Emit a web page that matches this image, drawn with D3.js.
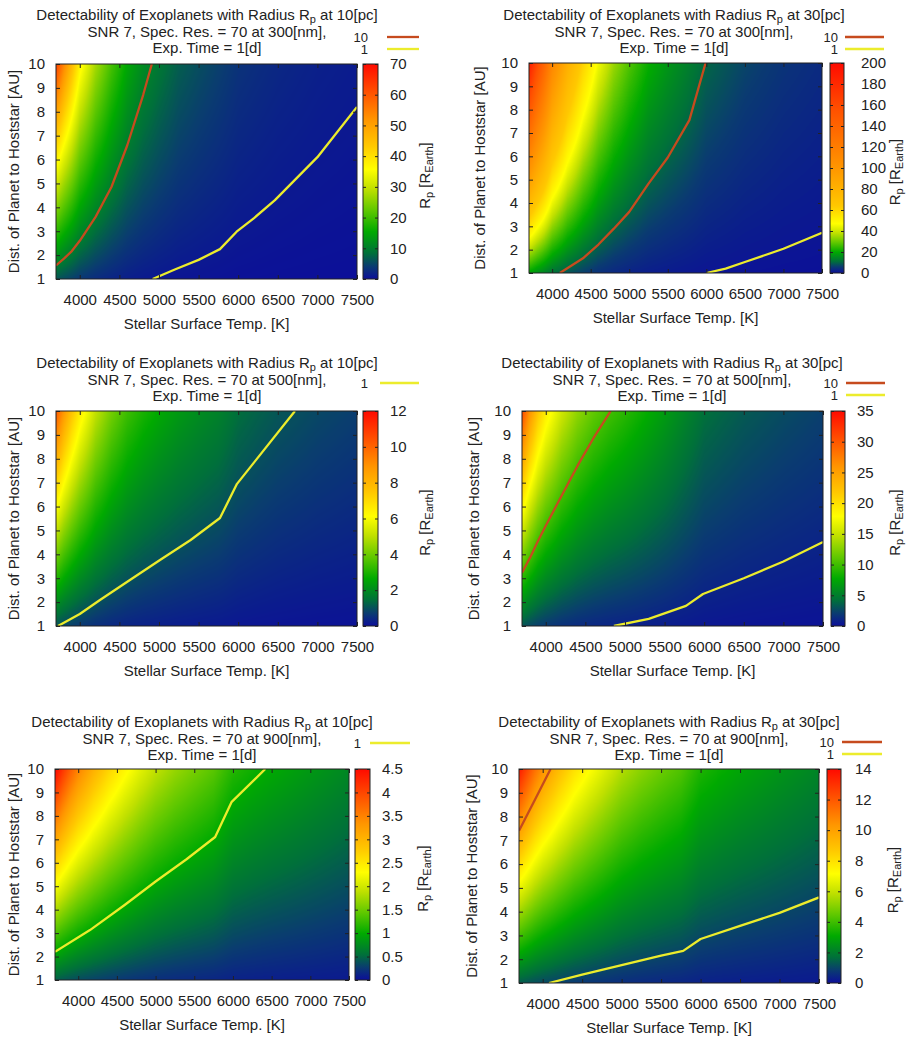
<!DOCTYPE html>
<html>
<head>
<meta charset="utf-8">
<script src="https://cdn.jsdelivr.net/npm/d3@7"></script>
<style>
  body { margin: 0; background: #fff; }
  svg { display: block; font-family: "Liberation Sans", Arial, Helvetica, sans-serif; }
</style>
</head>
<body>
<svg id="fig" width="908" height="1038"></svg>
<script>
// ---- grid of the minimum detectable radius Rp [R_Earth] ----
// columns: stellar surface temperature [K]; rows: planet distance [AU]
const temps = [3700, 3800, 3900, 4000, 4200, 4400, 4600, 4800, 5000, 5250, 5500, 5750, 6000, 6250, 6500, 7000, 7500];
const distRows = [1, 10];

const rp_10pc_300nm = [
  [6.3, 5.4, 4.6, 3.75, 2.75, 2.05, 1.5, 1.15, 0.92, 0.69, 0.56, 0.45, 0.335, 0.28, 0.228, 0.164, 0.122],
  [63, 54, 46, 37.5, 27.5, 20.5, 15, 11.5, 9.2, 6.9, 5.6, 4.5, 3.35, 2.8, 2.3, 1.65, 1.22]
];
const rp_30pc_300nm = [
  [18.9, 16.2, 13.8, 11.2, 8.25, 6.15, 4.5, 3.45, 2.75, 2.07, 1.68, 1.35, 1.0, 0.84, 0.68, 0.49, 0.37],
  [189, 162, 138, 112, 82, 61, 45, 34.5, 27.5, 20.7, 16.8, 13.5, 10, 8.4, 6.8, 4.9, 3.7]
];
const rp_10pc_500nm = [
  [1.03, 0.88, 0.76, 0.66, 0.51, 0.41, 0.34, 0.295, 0.262, 0.228, 0.202, 0.18, 0.143, 0.124, 0.108, 0.088, 0.074],
  [10.3, 8.8, 7.6, 6.6, 5.1, 4.1, 3.4, 2.95, 2.62, 2.28, 2.02, 1.8, 1.43, 1.24, 1.08, 0.88, 0.74]
];
const rp_30pc_500nm = [
  [3.1, 2.6, 2.2, 1.92, 1.55, 1.3, 1.13, 1.01, 0.92, 0.8, 0.68, 0.55, 0.425, 0.375, 0.33, 0.27, 0.222],
  [31, 26, 22, 19.2, 15.5, 13, 11.3, 10.1, 9.2, 8.0, 6.8, 5.5, 4.25, 3.75, 3.3, 2.7, 2.22]
];
const rp_10pc_900nm = [
  [0.455, 0.415, 0.38, 0.35, 0.305, 0.268, 0.238, 0.212, 0.19, 0.17, 0.155, 0.141, 0.116, 0.106, 0.098, 0.085, 0.072],
  [4.55, 4.15, 3.8, 3.5, 3.05, 2.68, 2.38, 2.12, 1.9, 1.7, 1.55, 1.41, 1.16, 1.06, 0.98, 0.85, 0.72]
];
const rp_30pc_900nm = [
  [1.36, 1.25, 1.14, 1.05, 0.915, 0.8, 0.715, 0.64, 0.57, 0.51, 0.465, 0.425, 0.35, 0.32, 0.295, 0.255, 0.217],
  [13.6, 12.5, 11.4, 10.5, 9.15, 8.0, 7.15, 6.4, 5.7, 5.1, 4.65, 4.25, 3.5, 3.2, 2.95, 2.55, 2.17]
];

// ---- contour lines of Rp = 10 and Rp = 1 : [temperature K, distance AU] ----
const c_10pc_300nm_10 = [[3700, 1.57], [3800, 1.85], [3900, 2.17], [4000, 2.6], [4200, 3.6], [4400, 4.85], [4600, 6.6], [4800, 8.7], [4910, 10]];
const c_10pc_300nm_1  = [[4920, 1], [5200, 1.4], [5500, 1.8], [5770, 2.25], [5980, 2.98], [6200, 3.55], [6464, 4.3], [7000, 6.1], [7500, 8.2]];
const c_30pc_300nm_10 = [[4100, 1], [4400, 1.63], [4600, 2.22], [4800, 2.9], [5000, 3.62], [5250, 4.83], [5500, 5.95], [5780, 7.55], [5990, 10]];
const c_30pc_300nm_1  = [[6000, 1], [6250, 1.19], [6500, 1.47], [7000, 2.04], [7500, 2.72]];
const c_10pc_500nm_1  = [[3725, 1], [4000, 1.5], [4255, 2.09], [4600, 2.85], [5013, 3.76], [5400, 4.6], [5770, 5.52], [5985, 6.95], [6717, 10]];
const c_30pc_500nm_10 = [[3700, 3.23], [3800, 3.85], [3900, 4.55], [4000, 5.2], [4200, 6.45], [4400, 7.7], [4600, 8.85], [4820, 10]];
const c_30pc_500nm_1  = [[4860, 1], [5300, 1.3], [5770, 1.84], [5985, 2.34], [6500, 3.0], [7000, 3.7], [7500, 4.52]];
const c_10pc_900nm_1  = [[3700, 2.2], [4152, 3.13], [4600, 4.2], [5000, 5.2], [5400, 6.15], [5770, 7.1], [5984, 8.6], [6418, 10]];
const c_30pc_900nm_10 = [[3700, 7.4], [3900, 8.7], [4100, 10]];
const c_30pc_900nm_1  = [[4080, 1], [4500, 1.35], [5000, 1.75], [5500, 2.15], [5780, 2.35], [6000, 2.85], [6500, 3.4], [7000, 3.95], [7500, 4.6]];

// ---- tick values ----
const xTicks = [4000, 4500, 5000, 5500, 6000, 6500, 7000, 7500];
const yTicks = [1, 2, 3, 4, 5, 6, 7, 8, 9, 10];
const cbTicks_10pc_300nm = [0, 10, 20, 30, 40, 50, 60, 70];
const cbTicks_30pc_300nm = [0, 20, 40, 60, 80, 100, 120, 140, 160, 180, 200];
const cbTicks_10pc_500nm = [0, 2, 4, 6, 8, 10, 12];
const cbTicks_30pc_500nm = [0, 5, 10, 15, 20, 25, 30, 35];
const cbTicks_10pc_900nm = [0, 0.5, 1, 1.5, 2, 2.5, 3, 3.5, 4, 4.5];
const cbTicks_30pc_900nm = [0, 2, 4, 6, 8, 10, 12, 14];

// ---- colour palette (blue -> green -> yellow -> orange -> red) ----
const paletteColors = ["#0c0e9a", "#0a3c70", "#00703a", "#00aa00", "#60c800", "#c0e000", "#ffff00", "#ffc800", "#ff9600", "#ff5000", "#ff0a00"];
const stopsStd  = [0, 0.06, 0.12, 0.22, 0.32, 0.42, 0.51, 0.62, 0.74, 0.87, 1];
const stopsWide = [0, 0.03, 0.055, 0.10, 0.145, 0.19, 0.235, 0.32, 0.50, 0.78, 1];

const RED = "#c64b1e", YELLOW = "#ecec2c";

const panels = [
  { pc: "10", nm: "300", grid: rp_10pc_300nm, cbMax: 70, cbTicks: cbTicks_10pc_300nm, stops: stopsStd,
    lines: [{ label: "10", pts: c_10pc_300nm_10, color: RED }, { label: "1", pts: c_10pc_300nm_1, color: YELLOW }],
    box: { L: 56, R: 357, T: 64, B: 279, cbL: 363, cbR: 378, cbLabX: 390, rpX: 430, titleX: 207, titleY: 15,
           legTextX: 368, legLine: [387, 419], legY: 37, yTitleX: 14 } },
  { pc: "30", nm: "300", grid: rp_30pc_300nm, cbMax: 200, cbTicks: cbTicks_30pc_300nm, stops: stopsWide,
    lines: [{ label: "10", pts: c_30pc_300nm_10, color: RED }, { label: "1", pts: c_30pc_300nm_1, color: YELLOW }],
    box: { L: 529, R: 822, T: 63, B: 273, cbL: 830, cbR: 844, cbLabX: 861, rpX: 900, titleX: 674, titleY: 15,
           legTextX: 838, legLine: [845, 884], legY: 37, yTitleX: 480 } },
  { pc: "10", nm: "500", grid: rp_10pc_500nm, cbMax: 12, cbTicks: cbTicks_10pc_500nm, stops: stopsStd,
    lines: [{ label: "1", pts: c_10pc_500nm_1, color: YELLOW }],
    box: { L: 56, R: 357, T: 411, B: 626, cbL: 363, cbR: 378, cbLabX: 390, rpX: 430, titleX: 207, titleY: 363,
           legTextX: 368, legLine: [380, 419], legY: 383, yTitleX: 14 } },
  { pc: "30", nm: "500", grid: rp_30pc_500nm, cbMax: 35, cbTicks: cbTicks_30pc_500nm, stops: stopsStd,
    lines: [{ label: "10", pts: c_30pc_500nm_10, color: RED }, { label: "1", pts: c_30pc_500nm_1, color: YELLOW }],
    box: { L: 522, R: 823, T: 411, B: 626, cbL: 831, cbR: 845, cbLabX: 857, rpX: 900, titleX: 672, titleY: 363,
           legTextX: 838, legLine: [846, 885], legY: 383, yTitleX: 474 } },
  { pc: "10", nm: "900", grid: rp_10pc_900nm, cbMax: 4.5, cbTicks: cbTicks_10pc_900nm, stops: stopsStd,
    lines: [{ label: "1", pts: c_10pc_900nm_1, color: YELLOW }],
    box: { L: 55, R: 349, T: 769, B: 980, cbL: 355, cbR: 370, cbLabX: 382, rpX: 428, titleX: 202, titleY: 722,
           legTextX: 361, legLine: [370, 410], legY: 743, yTitleX: 14 } },
  { pc: "30", nm: "900", grid: rp_30pc_900nm, cbMax: 14, cbTicks: cbTicks_30pc_900nm, stops: stopsStd,
    lines: [{ label: "10", pts: c_30pc_900nm_10, color: RED }, { label: "1", pts: c_30pc_900nm_1, color: YELLOW }],
    box: { L: 519, R: 819, T: 769, B: 983, cbL: 827, cbR: 841, cbLabX: 855, rpX: 898, titleX: 669, titleY: 722,
           legTextX: 834, legLine: [842, 882], legY: 742, yTitleX: 472 } }
];

const svg = d3.select("#fig");
const TXT = "#222";
const FS = 15;

panels.forEach((p, i) => {
  const b = p.box;
  const g = svg.append("g").attr("class", "panel");
  const x = d3.scaleLinear().domain([3700, 7500]).range([b.L, b.R]);
  const y = d3.scaleLinear().domain([1, 10]).range([b.B, b.T]);
  const cb = d3.scaleLinear().domain([0, p.cbMax]).range([b.B, b.T]);
  const color = d3.scaleLinear()
    .domain(p.stops.map(s => s * p.cbMax))
    .range(paletteColors)
    .interpolate(d3.interpolateRgb)
    .clamp(true);

  // --- heat map raster ---
  const w = Math.round(b.R - b.L), h = Math.round(b.B - b.T);
  const cv = document.createElement("canvas");
  cv.width = w; cv.height = h;
  const ctx = cv.getContext("2d");
  const img = ctx.createImageData(w, h);
  const rowScales = p.grid.map(r => d3.scaleLinear().domain(temps).range(r));
  const N = 1024;
  const lut = d3.range(N).map(k => d3.rgb(color(k / (N - 1) * p.cbMax)));
  const colVals = d3.range(w).map(px => {
    const T = x.invert(b.L + px + 0.5);
    return rowScales.map(s => s(T));
  });
  for (let py = 0; py < h; py++) {
    const a = y.invert(b.T + py + 0.5);
    const t = (a - distRows[0]) / (distRows[1] - distRows[0]);
    for (let px = 0; px < w; px++) {
      const cvv = colVals[px];
      const v = cvv[0] * (1 - t) + cvv[1] * t;
      let k = Math.round(v / p.cbMax * (N - 1));
      k = Math.max(0, Math.min(N - 1, k));
      const c = lut[k];
      const o = (py * w + px) * 4;
      img.data[o] = c.r; img.data[o + 1] = c.g; img.data[o + 2] = c.b; img.data[o + 3] = 255;
    }
  }
  ctx.putImageData(img, 0, 0);
  g.append("image")
    .attr("href", cv.toDataURL())
    .attr("x", b.L).attr("y", b.T).attr("width", b.R - b.L).attr("height", b.B - b.T)
    .attr("preserveAspectRatio", "none");

  // --- contour lines ---
  const clipId = "clip" + i;
  svg.append("clipPath").attr("id", clipId)
    .append("rect").attr("x", b.L).attr("y", b.T).attr("width", b.R - b.L).attr("height", b.B - b.T);
  const line = d3.line().x(d => x(d[0])).y(d => y(d[1])).curve(d3.curveLinear);
  g.append("g").attr("clip-path", `url(#${clipId})`)
    .selectAll("path").data(p.lines).join("path")
    .attr("d", d => line(d.pts))
    .attr("fill", "none").attr("stroke", d => d.color).attr("stroke-width", 2.3)
    .attr("stroke-linejoin", "round");

  // --- axes (ticks drawn inside, mirrored) ---
  const styleAxis = sel => {
    sel.select(".domain").remove();
    sel.selectAll(".tick line").attr("stroke", "#222");
    sel.selectAll(".tick text").attr("fill", TXT).style("font-size", FS + "px")
      .style("font-family", '"Liberation Sans", Arial, sans-serif');
  };
  g.append("g").attr("transform", `translate(0,${b.B})`)
    .call(d3.axisBottom(x).tickValues(xTicks).tickSize(-4).tickPadding(15).tickFormat(d3.format("d")))
    .call(styleAxis);
  g.append("g").attr("transform", `translate(0,${b.T})`)
    .call(d3.axisTop(x).tickValues(xTicks).tickSize(-4).tickFormat(""))
    .call(styleAxis);
  g.append("g").attr("transform", `translate(${b.L},0)`)
    .call(d3.axisLeft(y).tickValues(yTicks).tickSize(-4).tickPadding(11).tickFormat(d3.format("d")))
    .call(styleAxis);
  g.append("g").attr("transform", `translate(${b.R},0)`)
    .call(d3.axisRight(y).tickValues(yTicks).tickSize(-4).tickFormat(""))
    .call(styleAxis);

  g.append("rect").attr("x", b.L).attr("y", b.T).attr("width", b.R - b.L).attr("height", b.B - b.T)
    .attr("fill", "none").attr("stroke", "#222").attr("stroke-width", 1);

  // --- colour bar ---
  const gradId = "grad" + i;
  const grad = svg.append("defs").append("linearGradient").attr("id", gradId)
    .attr("x1", 0).attr("y1", 1).attr("x2", 0).attr("y2", 0);
  grad.selectAll("stop").data(p.stops).join("stop")
    .attr("offset", d => d)
    .attr("stop-color", (d, k) => paletteColors[k]);
  g.append("rect").attr("x", b.cbL).attr("y", b.T).attr("width", b.cbR - b.cbL).attr("height", b.B - b.T)
    .attr("fill", `url(#${gradId})`).attr("stroke", "#222").attr("stroke-width", 1);
  g.append("g").attr("transform", `translate(${b.cbR},0)`)
    .call(d3.axisRight(cb).tickValues(p.cbTicks).tickSize(-3).tickPadding(b.cbLabX - b.cbR)
      .tickFormat(d3.format("~g")))
    .call(styleAxis);
  g.append("g").attr("transform", `translate(${b.cbL},0)`)
    .call(d3.axisLeft(cb).tickValues(p.cbTicks).tickSize(-3).tickFormat(""))
    .call(styleAxis);

  // --- colour bar title: Rp [R_Earth] ---
  const cy = (b.T + b.B) / 2;
  const rp = g.append("text").attr("transform", `translate(${b.rpX},${cy + 4}) rotate(-90)`)
    .attr("text-anchor", "middle").attr("fill", TXT).style("font-size", FS + "px");
  rp.append("tspan").text("R");
  rp.append("tspan").attr("dy", 3).style("font-size", "11px").text("p");
  rp.append("tspan").attr("dy", -3).text(" [R");
  rp.append("tspan").attr("dy", 3).style("font-size", "11px").text("Earth");
  rp.append("tspan").attr("dy", -3).text("]");

  // --- axis titles ---
  g.append("text").attr("x", (b.L + b.R) / 2).attr("y", b.B + 45).attr("dy", "0.35em")
    .attr("text-anchor", "middle").attr("fill", TXT).style("font-size", FS + "px")
    .text("Stellar Surface Temp. [K]");
  g.append("text").attr("transform", `translate(${b.yTitleX},${cy}) rotate(-90)`).attr("dy", "0.35em")
    .attr("text-anchor", "middle").attr("fill", TXT).style("font-size", FS + "px")
    .text("Dist. of Planet to Hoststar [AU]");

  // --- title ---
  const t1 = g.append("text").attr("x", b.titleX).attr("y", b.titleY).attr("dy", "0.35em")
    .attr("text-anchor", "middle").attr("fill", TXT).style("font-size", FS + "px");
  t1.append("tspan").text("Detectability of Exoplanets with Radius R");
  t1.append("tspan").attr("dy", 3).style("font-size", "11px").text("p");
  t1.append("tspan").attr("dy", -3).text(` at ${p.pc}[pc]`);
  g.append("text").attr("x", b.titleX).attr("y", b.titleY + 16.5).attr("dy", "0.35em")
    .attr("text-anchor", "middle").attr("fill", TXT).style("font-size", FS + "px")
    .text(`SNR 7, Spec. Res. = 70 at ${p.nm}[nm],`);
  g.append("text").attr("x", b.titleX).attr("y", b.titleY + 33).attr("dy", "0.35em")
    .attr("text-anchor", "middle").attr("fill", TXT).style("font-size", FS + "px")
    .text("Exp. Time = 1[d]");

  // --- key ---
  const key = g.selectAll(".key").data(p.lines).join("g").attr("class", "key")
    .attr("transform", (d, k) => `translate(0,${b.legY + k * 12})`);
  key.append("text").attr("x", b.legTextX).attr("dy", "0.35em").attr("text-anchor", "end")
    .attr("fill", TXT).style("font-size", "13px").text(d => d.label);
  key.append("line").attr("x1", b.legLine[0]).attr("x2", b.legLine[1])
    .attr("stroke", d => d.color).attr("stroke-width", 2.3);
});
</script>
</body>
</html>
